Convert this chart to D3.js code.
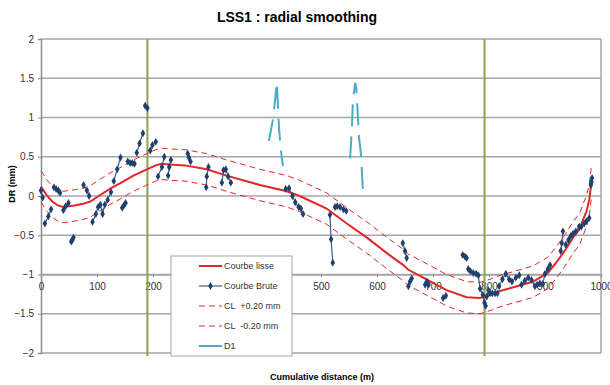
<!DOCTYPE html>
<html lang="en">
<head>
<meta charset="UTF-8">
<title>LSS1 : radial smoothing</title>
<script src="https://d3js.org/d3.v7.min.js"></script>
<style>
  body { margin: 0; background: #fff; }
  svg text { font-family: "Liberation Sans", Arial, sans-serif; }
</style>
</head>
<body>
<div id="chart"></div>
<script>
// ---- data ----
const xTicks = [0, 100, 200, 300, 400, 500, 600, 700, 800, 900, 1000];
const hiddenTicks = [300, 400]; // covered by the legend
const yTicks = [-2, -1.5, -1, -0.5, 0, 0.5, 1, 1.5, 2];

// smoothed curve
const lisseX = [0, 4, 10, 20, 30, 40, 60, 75, 88, 105, 125, 141, 165, 189, 205, 215, 230, 257, 296, 331, 391, 439, 462, 510, 546, 570, 582, 620, 647, 656, 680, 701, 724, 760, 784, 802, 820, 850, 879, 905, 921, 935, 951, 962, 968, 974, 979, 983];
const lisseY = [0.12, 0.08, 0.01, -0.07, -0.12, -0.14, -0.12, -0.10, -0.07, 0.01, 0.10, 0.16, 0.26, 0.34, 0.39, 0.41, 0.40, 0.39, 0.34, 0.26, 0.14, 0.06, 0.00, -0.16, -0.35, -0.47, -0.53, -0.74, -0.88, -0.94, -1.03, -1.11, -1.20, -1.29, -1.30, -1.26, -1.21, -1.15, -1.09, -0.98, -0.84, -0.70, -0.52, -0.42, -0.30, -0.20, -0.05, 0.18];
// confidence limits (+0.20 / -0.20 mm)
const clUpY = [0.32, 0.28, 0.21, 0.13, 0.08, 0.06, 0.08, 0.10, 0.13, 0.21, 0.30, 0.36, 0.46, 0.54, 0.59, 0.61, 0.60, 0.59, 0.54, 0.46, 0.34, 0.26, 0.20, 0.04, -0.15, -0.27, -0.33, -0.54, -0.68, -0.74, -0.83, -0.91, -1.00, -1.09, -1.10, -1.06, -1.01, -0.95, -0.89, -0.78, -0.64, -0.50, -0.32, -0.22, -0.10, 0.00, 0.15, 0.38];
const clDnY = [-0.08, -0.12, -0.19, -0.27, -0.32, -0.34, -0.32, -0.30, -0.27, -0.19, -0.10, -0.04, 0.06, 0.14, 0.19, 0.21, 0.20, 0.19, 0.14, 0.06, -0.06, -0.14, -0.20, -0.36, -0.55, -0.67, -0.73, -0.94, -1.08, -1.14, -1.23, -1.31, -1.40, -1.49, -1.50, -1.46, -1.41, -1.35, -1.29, -1.18, -1.04, -0.90, -0.72, -0.62, -0.50, -0.40, -0.25, -0.02];

// raw measurements, null = gap between runs
const brutX = [0, 3, null, 7, 13, 18, null, 23, 27, 31, 34, null, 40, 44, 49, null, 54, 56, 58, null,
  76, 82, 86, null, 92, 98, 102, 106, 110, 114, 119, 125, null, 130, 136, 142, null, 145, 148, 151, null,
  155, 159, 163, 167, null, 171, 176, 182, null, 186, 190, null, 195, 199, 205, null, 209, 216, 220, null,
  227, 229, 232, null, 262, 264, 267, null, 295, 296, 299, null, 323, 326, 330, 334, 339, null,
  437, 443, 449, 454, 460, 464, 468, null, 516, 518, 521, null, 525, 529, 534, 540, 545, null,
  646, 650, 653, null, 656, 659, 662, null, 686, 689, 692, null, 718, 723, null, 753, 757, 760, null,
  763, 767, 772, 777, 781, 784, 789, 792, 794, null, 796, 799, null, 802, 806, 811, 815, null,
  818, 824, 830, 836, 841, 848, 854, null, 858, 864, 870, 876, 882, 886, 891, 896, 900, 905, 909, null,
  928, 930, 932, null, 937, 942, 946, 950, 955, 961, 965, 970, 974, 979, null, 982, 983, 984];
const brutY = [0.07, -0.02, null, -0.35, -0.26, -0.17, null, 0.11, 0.09, 0.07, 0.04, null, -0.18, -0.13, -0.09, null, -0.58, -0.56, -0.53, null,
  0.14, 0.07, 0.00, null, -0.33, -0.23, -0.14, -0.11, -0.23, -0.11, -0.05, 0.05, null, 0.19, 0.34, 0.49, null, -0.15, -0.12, -0.09, null,
  0.44, 0.42, 0.42, 0.41, null, 0.55, 0.67, 0.80, null, 1.15, 1.12, null, 0.58, 0.65, 0.69, null, 0.25, 0.37, 0.50, null,
  0.26, 0.37, 0.46, null, 0.54, 0.49, 0.44, null, 0.11, 0.25, 0.37, null, 0.17, 0.33, 0.34, 0.25, 0.17, null,
  0.09, 0.10, 0.00, -0.08, -0.14, -0.16, -0.23, null, -0.24, -0.55, -0.85, null, -0.14, -0.13, -0.14, -0.17, -0.19, null,
  -0.60, -0.70, -0.79, null, -1.15, -1.09, -1.05, null, -1.13, -1.09, -1.13, null, -1.30, -1.27, null, -0.75, -0.77, -0.79, null,
  -0.93, -0.96, -0.98, -0.99, -1.01, -1.18, -1.26, -1.36, -1.40, null, -1.28, -1.20, null, -1.24, -1.24, -1.24, -1.24, null,
  -1.15, -1.06, -0.99, -1.06, -1.09, -1.04, -1.01, null, -1.13, -1.08, -1.04, -1.07, -1.15, -1.13, -1.11, -1.12, -0.99, -0.93, -0.88, null,
  -0.70, -0.60, -0.45, null, -0.62, -0.56, -0.51, -0.48, -0.45, -0.39, -0.39, -0.35, -0.32, -0.28, null, 0.14, 0.18, 0.23];

// D1 traces
const d1aX = [407, 414, 418, 421, 423, 425, 428, 432];
const d1aY = [0.70, 0.97, 1.22, 1.45, 1.16, 0.87, 0.61, 0.38];
const d1bX = [552, 555, 557, 561, 563, 568, 571, 575];
const d1bY = [0.48, 0.84, 1.22, 1.44, 1.38, 0.74, 0.56, 0.05];

// vertical markers
const markerX = [190, 792];

const legendItems = ["Courbe lisse", "Courbe Brute", "CL  +0.20 mm", "CL  -0.20 mm", "D1"];

// ---- layout ----
const W = 610, H = 385;
const margin = { top: 39, right: 9, bottom: 32, left: 41 };
const width = W - margin.left - margin.right;
const height = H - margin.top - margin.bottom;

const red = "#e3262b", navy = "#1f3f6c", cyan = "#4bacc6", green = "#8da34b", grid = "#a6a6a6";

const svg = d3.select("#chart").append("svg")
  .attr("width", W).attr("height", H);

const g = svg.append("g")
  .attr("transform", "translate(" + margin.left + "," + margin.top + ")");

const x = d3.scaleLinear().domain([0, 1000]).range([0, width]);
const y = d3.scaleLinear().domain([-2, 2]).range([height, 0]);

// gridlines + frame
g.selectAll(".grid")
  .data(yTicks)
  .enter().append("line")
  .attr("x1", 0).attr("x2", width)
  .attr("y1", d => y(d)).attr("y2", d => y(d))
  .attr("stroke", grid).attr("stroke-width", 1.5);
g.append("line")
  .attr("x1", width).attr("x2", width).attr("y1", 0).attr("y2", height)
  .attr("stroke", grid).attr("stroke-width", 1.5);

// y axis
const yAxis = g.append("g")
  .call(d3.axisLeft(y).tickValues(yTicks).tickSize(3).tickFormat(d3.format("")));
yAxis.select(".domain").attr("stroke", "#8c8c8c").attr("stroke-width", 1.5);
yAxis.selectAll(".tick line").attr("stroke", "#8c8c8c");
yAxis.selectAll("text").attr("font-size", 10).attr("fill", "#333").attr("dx", -1);

// x axis crosses at DR = -1
const xAxis = g.append("g")
  .attr("transform", "translate(0," + y(-1) + ")")
  .call(d3.axisBottom(x).tickValues(xTicks).tickSize(3)
    .tickFormat(d => hiddenTicks.includes(d) ? "" : d));
xAxis.select(".domain").attr("stroke", grid).attr("stroke-width", 1.5);
xAxis.selectAll(".tick line").attr("stroke", "#8c8c8c");
xAxis.selectAll("text").attr("font-size", 10).attr("fill", "#333").attr("dy", "0.9em");

// vertical green markers
g.selectAll(".marker")
  .data(markerX)
  .enter().append("line")
  .attr("x1", d => x(d)).attr("x2", d => x(d))
  .attr("y1", y(2)).attr("y2", y(-2) + 3)
  .attr("stroke", green).attr("stroke-width", 2);

const line = d3.line()
  .defined(d => d[1] !== null)
  .x(d => x(d[0])).y(d => y(d[1]));

const zip = (xs, ys) => xs.map((v, i) => [v, ys[i]]);

// confidence limits
[clUpY, clDnY].forEach(ys => {
  g.append("path")
    .datum(zip(lisseX, ys))
    .attr("d", line)
    .attr("fill", "none")
    .attr("stroke", red).attr("stroke-width", 1)
    .attr("stroke-dasharray", "6,4");
});

// smoothed curve
g.append("path")
  .datum(zip(lisseX, lisseY))
  .attr("d", line)
  .attr("fill", "none")
  .attr("stroke", red).attr("stroke-width", 2);

// D1
[[d1aX, d1aY], [d1bX, d1bY]].forEach(([xs, ys]) => {
  g.append("path")
    .datum(zip(xs, ys))
    .attr("d", line)
    .attr("fill", "none")
    .attr("stroke", cyan).attr("stroke-width", 2)
    .attr("stroke-dasharray", "22,10");
});

// raw curve
const brut = zip(brutX, brutY);
g.append("path")
  .datum(brut)
  .attr("d", line)
  .attr("fill", "none")
  .attr("stroke", "#3d5f8c").attr("stroke-width", 1.2);

const diamond = d3.symbol().type(d3.symbolDiamond).size(18);
g.selectAll(".pt")
  .data(brut.filter(d => d[1] !== null))
  .enter().append("path")
  .attr("d", diamond)
  .attr("transform", d => "translate(" + x(d[0]) + "," + y(d[1]) + ")")
  .attr("fill", navy);

// legend
const leg = svg.append("g").attr("transform", "translate(171,256)");
leg.append("rect")
  .attr("width", 121).attr("height", 100)
  .attr("fill", "#fff").attr("stroke", "#a6a6a6").attr("stroke-width", 1);

const legStyle = [
  { stroke: red, w: 2, dash: null, mark: false },
  { stroke: "#3d5f8c", w: 1.2, dash: null, mark: true },
  { stroke: red, w: 1, dash: "6,4", mark: false },
  { stroke: red, w: 1, dash: "6,4", mark: false },
  { stroke: cyan, w: 2, dash: null, mark: false }
];

legendItems.forEach((name, i) => {
  const row = leg.append("g").attr("transform", "translate(0," + (10 + i * 20) + ")");
  const s = legStyle[i];
  row.append("line")
    .attr("x1", 28).attr("x2", 51)
    .attr("stroke", s.stroke).attr("stroke-width", s.w)
    .attr("stroke-dasharray", s.dash);
  if (s.mark) {
    row.append("path").attr("d", diamond)
      .attr("transform", "translate(39.5,0)").attr("fill", navy);
  }
  row.append("text")
    .attr("x", 53).attr("y", 0).attr("dy", "0.35em")
    .attr("font-size", 9).attr("fill", "#333")
    .style("white-space", "pre")
    .text(name);
});

// titles
svg.append("text")
  .attr("x", 297).attr("y", 22)
  .attr("text-anchor", "middle")
  .attr("font-size", 14).attr("font-weight", "bold")
  .text("LSS1 : radial smoothing");

svg.append("text")
  .attr("transform", "translate(15,184) rotate(-90)")
  .attr("text-anchor", "middle")
  .attr("font-size", 9).attr("font-weight", "bold")
  .text("DR (mm)");

svg.append("text")
  .attr("x", 322).attr("y", 380)
  .attr("text-anchor", "middle")
  .attr("font-size", 9).attr("font-weight", "bold")
  .text("Cumulative distance (m)");
</script>
</body>
</html>
